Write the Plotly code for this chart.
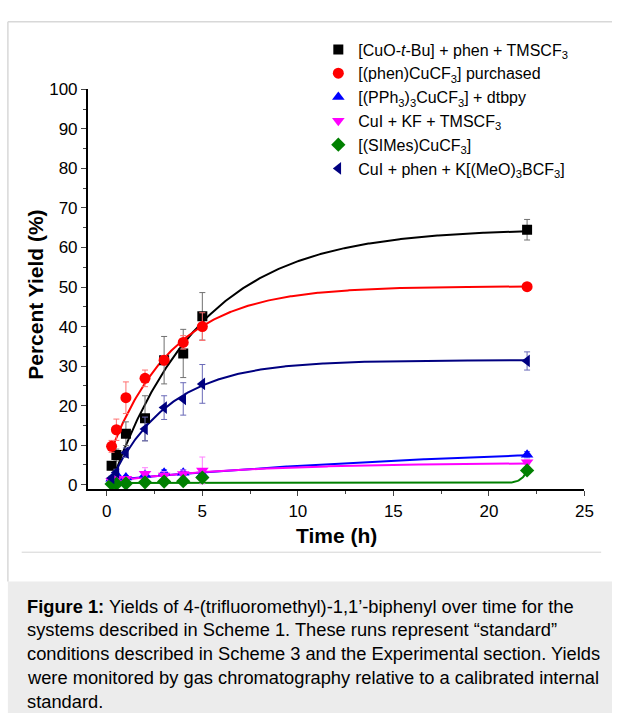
import numpy as np
import plotly.graph_objects as go

W, H = 621, 718

# ---------------- data ----------------
time_h = [0.25, 0.5, 1, 2, 3, 4, 5, 22]

cuotbu_y = [4.8, 7.5, 12.9, 16.8, 31.5, 33.2, 42.6, 64.5]
cuotbu_err = [1.0, 1.5, 3.0, 5.7, 6.0, 6.1, 6.0, 2.6]

phen_y = [9.7, 13.9, 22.0, 26.9, 31.5, 36.0, 40.0, 50.1]
phen_err = [1.5, 2.7, 4.0, 2.1, 1.2, 1.7, 3.5, 0.4]

pph3_y = [1.5, 2.6, 1.8, 2.5, 3.0, 3.0, 2.6, 7.6]
pph3_err = [0.5, 0.6, 0.5, 0.8, 0.8, 0.8, 0.8, 0.8]

cuikf_y = [1.0, 1.5, 1.5, 2.8, 2.3, 2.7, 3.6, 5.7]
cuikf_err = [0.4, 0.5, 0.5, 1.5, 1.0, 1.0, 3.4, 0.6]

simes_y = [0.2, 0.2, 0.3, 0.6, 0.8, 0.9, 1.8, 3.6]
simes_err = [0.2, 0.2, 0.2, 0.3, 0.3, 0.3, 0.4, 0.5]

kbor_y = [1.7, 3.1, 8.1, 14.1, 19.5, 21.7, 25.5, 31.3]
kbor_err = [0.5, 0.8, 1.2, 3.0, 3.0, 4.1, 4.9, 2.3]

fit_cuotbu = dict(y0=0.0, A=64.8, k=0.21, t0=0.2)
fit_phen = dict(y0=9.0, A=41.2, k=0.297, t0=0.25)
fit_pph3 = dict(y0=1.2, A=10.0, k=0.045, t0=0.25)
fit_cuikf = dict(y0=0.9, A=4.7, k=0.14, t0=0.25)
fit_kbor = dict(y0=1.5, A=30.0, k=0.325, t0=0.25)
# SIMes fit: y = base + B*exp(c*(t - 22))
fit_simes = dict(base=0.4, B=3.2, c=3.5, t0=0.25)

names = [
    "[CuO-<i>t</i>-Bu] + phen + TMSCF<sub>3</sub>",
    "[(phen)CuCF<sub>3</sub>] purchased",
    "[(PPh<sub>3</sub>)<sub>3</sub>CuCF<sub>3</sub>] + dtbpy",
    "CuI + KF + TMSCF<sub>3</sub>",
    "[(SIMes)CuCF<sub>3</sub>]",
    "CuI + phen + K[(MeO)<sub>3</sub>BCF<sub>3</sub>]",
]
colors = ["#000000", "#ff0000", "#0000ff", "#ff00ff", "#008000", "#000080"]
err_colors = ["#707070", "#ff7070", "#6a6aff", "#ff80ff", "#40a040", "#6a6ab8"]
symbols = ["square", "circle", "triangle-up", "triangle-down", "diamond", "triangle-left"]
sizes = [10, 11, 11, 11, 11, 11]

series_y = [cuotbu_y, phen_y, pph3_y, cuikf_y, simes_y, kbor_y]
series_err = [cuotbu_err, phen_err, pph3_err, cuikf_err, simes_err, kbor_err]
fits = [fit_cuotbu, fit_phen, fit_pph3, fit_cuikf, fit_simes, fit_kbor]


def fit_curve(p):
    t = np.linspace(p["t0"], 22, 400)
    if "base" in p:
        return t, p["base"] + p["B"] * np.exp(p["c"] * (t - 22))
    return t, p["y0"] + p["A"] * (1 - np.exp(-p["k"] * (t - p["t0"])))


fig = go.Figure()

# fit lines
for i in range(6):
    t, y = fit_curve(fits[i])
    fig.add_trace(go.Scatter(x=t, y=y, mode="lines", line=dict(color=colors[i], width=2),
                             showlegend=False, hoverinfo="skip"))

# data points
for i in range(6):
    fig.add_trace(go.Scatter(
        x=time_h, y=series_y[i], mode="markers", name=names[i],
        marker=dict(symbol=symbols[i], size=sizes[i], color=colors[i], line=dict(width=0)),
        error_y=dict(type="data", array=series_err[i], visible=True, color=err_colors[i],
                     thickness=1, width=3),
    ))

# ---------------- layout ----------------
def px_x(px):
    return px / W


def px_y(py):
    return (H - py) / H


ax_left, ax_right, ax_top, ax_bottom = 89, 593, 82, 490

fig.update_layout(
    width=W, height=H,
    margin=dict(l=0, r=0, t=0, b=0),
    paper_bgcolor="white", plot_bgcolor="white",
    font=dict(family="Liberation Sans, Arial, sans-serif", color="black"),
    xaxis=dict(domain=[px_x(ax_left), px_x(ax_right)], range=[-1, 25],
               tickmode="linear", tick0=0, dtick=5, ticks="outside", ticklen=5, tickwidth=1.2,
               tickfont=dict(size=17), showgrid=False, zeroline=False,
               showline=True, linecolor="black", linewidth=1.5,
               minor=dict(ticks="outside", ticklen=3, dtick=2.5, tick0=0, tickwidth=1.2, showgrid=False)),
    yaxis=dict(domain=[px_y(ax_bottom), px_y(ax_top)], range=[-1.2, 100],
               tickmode="linear", tick0=0, dtick=10, ticks="outside", ticklen=5, tickwidth=1.2,
               tickfont=dict(size=17), showgrid=False, zeroline=False,
               showline=True, linecolor="black", linewidth=1.5,
               minor=dict(ticks="outside", ticklen=3, dtick=5, tick0=0, tickwidth=1.2, showgrid=False)),
    legend=dict(x=px_x(323), y=px_y(24), xanchor="left", yanchor="top",
                bgcolor="rgba(0,0,0,0)", font=dict(size=16), itemwidth=30,
                tracegroupgap=0),
    showlegend=True,
)

shapes = [
    # outer white panel border
    dict(type="line", xref="paper", yref="paper", x0=px_x(8), x1=px_x(8), y0=px_y(13), y1=px_y(584),
         line=dict(color="#d8d8d8", width=1.5)),
    dict(type="line", xref="paper", yref="paper", x0=px_x(8), x1=1, y0=px_y(13), y1=px_y(13),
         line=dict(color="#d8d8d8", width=1.5)),
    # separator line
    dict(type="line", xref="paper", yref="paper", x0=px_x(22), x1=px_x(610), y0=px_y(554), y1=px_y(554),
         line=dict(color="#d4d4d4", width=1)),
    # caption box
    dict(type="rect", xref="paper", yref="paper", x0=px_x(8), x1=1, y0=0, y1=px_y(584),
         fillcolor="#ececec", line=dict(width=0), layer="below"),
]
fig.update_layout(shapes=shapes)

annotations = [
    dict(text="<b>Percent Yield (%)</b>", xref="paper", yref="paper", x=px_x(36), y=px_y(291),
         textangle=-90, showarrow=False, font=dict(size=21), xanchor="center", yanchor="middle"),
    dict(text="<b>Time (h)</b>", xref="paper", yref="paper", x=px_x(341), y=px_y(537),
         showarrow=False, font=dict(size=21), xanchor="center", yanchor="middle"),
]
caption_lines = [
    "<b>Figure 1:</b> Yields of 4-(trifluoromethyl)-1,1’-biphenyl over time for the",
    "systems described in Scheme 1. These runs represent “standard”",
    "conditions described in Scheme 3 and the Experimental section. Yields",
    "were monitored by gas chromatography relative to a calibrated internal",
    "standard.",
]
for j, line in enumerate(caption_lines):
    annotations.append(dict(text=line, xref="paper", yref="paper", x=px_x(25), y=px_y(609 + 24.3 * j),
                            showarrow=False, font=dict(size=18.3), xanchor="left", yanchor="middle"))
fig.update_layout(annotations=annotations)

fig.write_html("out.html", config={"displayModeBar": False},
               post_script="document.body.style.margin='0';document.body.style.overflow='hidden';")
